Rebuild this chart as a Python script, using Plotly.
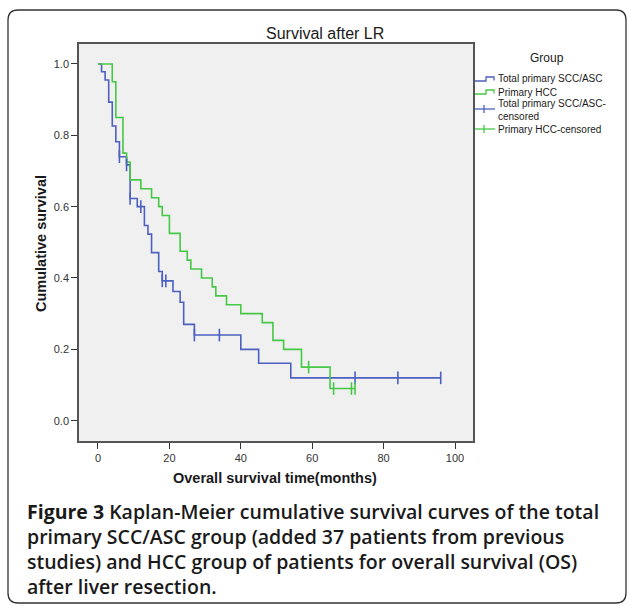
import plotly.graph_objects as go

# ---------------- data ----------------
scc_times = [0, 1, 2, 3, 4, 5, 6, 8, 9, 11, 13, 14, 15, 17, 18, 21, 23, 24, 27, 40, 45, 54]
scc_surv = [1.0, 0.978, 0.955, 0.893, 0.826, 0.782, 0.740, 0.717, 0.623, 0.600, 0.547,
            0.523, 0.471, 0.418, 0.392, 0.362, 0.332, 0.270, 0.240, 0.200, 0.161, 0.120]
scc_censored = [6, 8, 9, 12, 18, 19, 27, 34, 72, 84, 96]

hcc_times = [0, 4, 5, 7, 8, 9, 12, 15, 17, 18, 20, 23, 25, 26, 29, 32, 33, 36, 40, 46, 49, 52, 57, 65]
hcc_surv = [1.0, 0.95, 0.85, 0.75, 0.725, 0.675, 0.65, 0.625, 0.60, 0.575, 0.525, 0.475, 0.45,
            0.425, 0.40, 0.375, 0.35, 0.325, 0.30, 0.275, 0.225, 0.20, 0.15, 0.09]
hcc_censored = [59, 66, 71, 72]

x_ticks = [0, 20, 40, 60, 80, 100]
y_ticks = [0.0, 0.2, 0.4, 0.6, 0.8, 1.0]

legend_labels = ["Total primary SCC/ASC", "Primary HCC",
                 "Total primary SCC/ASC-<br>censored", "Primary HCC-censored"]
caption_lines = [
    "<b>Figure 3</b> Kaplan-Meier cumulative survival curves of the total",
    "primary SCC/ASC group (added 37 patients from previous",
    "studies) and HCC group of patients for overall survival (OS)",
    "after liver resection.",
]

# ---------------- styling ----------------
W, H = 629, 609
ML, MR, MT, MB = 79, 156, 44, 168
PW, PH = W - ML - MR, H - MT - MB
BLUE = "#4d60c0"
GREEN = "#45c845"
FONT = "Arial, Liberation Sans, sans-serif"


def px(x):
    return (x - ML) / PW


def py(y):
    return 1 - (y - MT) / PH


def surv_at(times, surv, t):
    s = surv[0]
    for ti, si in zip(times, surv):
        if ti <= t:
            s = si
    return s


fig = go.Figure()

for times, surv, cens, col in [
    (scc_times, scc_surv, scc_censored, BLUE),
    (hcc_times, hcc_surv, hcc_censored, GREEN),
]:
    xs = list(times) + [max(cens)]
    ys = list(surv) + [surv[-1]]
    fig.add_trace(go.Scatter(x=xs, y=ys, mode="lines", line=dict(color=col, width=1.6, shape="hv"),
                             showlegend=False, hoverinfo="skip"))

for times, surv, cens, col in [
    (scc_times, scc_surv, scc_censored, BLUE),
    (hcc_times, hcc_surv, hcc_censored, GREEN),
]:
    fig.add_trace(go.Scatter(x=cens, y=[surv_at(times, surv, c) for c in cens], mode="markers",
                             marker=dict(symbol="line-ns", size=9, line=dict(color=col, width=1.6)),
                             showlegend=False, hoverinfo="skip"))

shapes = []
# outer rounded frame
x0, x1, y0, y1, r = 8, 626, 10, 603, 10
path = (f"M {px(x0 + r)},{py(y0)} L {px(x1 - r)},{py(y0)} Q {px(x1)},{py(y0)} {px(x1)},{py(y0 + r)} "
        f"L {px(x1)},{py(y1 - r)} Q {px(x1)},{py(y1)} {px(x1 - r)},{py(y1)} "
        f"L {px(x0 + r)},{py(y1)} Q {px(x0)},{py(y1)} {px(x0)},{py(y1 - r)} "
        f"L {px(x0)},{py(y0 + r)} Q {px(x0)},{py(y0)} {px(x0 + r)},{py(y0)} Z")
shapes.append(dict(type="path", xref="paper", yref="paper", path=path,
                   line=dict(color="#333333", width=1.3), layer="below"))

# legend symbols
legend_y = [79, 92, 109, 129]
for col, yy in zip([BLUE, GREEN], legend_y[:2]):
    p = (f"M {px(475)},{py(yy + 2)} L {px(486)},{py(yy + 2)} L {px(486)},{py(yy - 2)} "
         f"L {px(494)},{py(yy - 2)} L {px(494)},{py(yy + 1.5)}")
    shapes.append(dict(type="path", xref="paper", yref="paper", path=p, line=dict(color=col, width=1.3)))
for col, yy in zip([BLUE, GREEN], legend_y[2:]):
    shapes.append(dict(type="line", xref="paper", yref="paper", x0=px(475), x1=px(495), y0=py(yy), y1=py(yy),
                       line=dict(color=col, width=1.3)))
    shapes.append(dict(type="line", xref="paper", yref="paper", x0=px(484), x1=px(484), y0=py(yy - 4),
                       y1=py(yy + 4), line=dict(color=col, width=1.3)))

annotations = []
annotations.append(dict(x=px(325), y=py(33), xref="paper", yref="paper", text="Survival after LR",
                        showarrow=False, xanchor="center", yanchor="middle",
                        font=dict(family=FONT, size=16, color="#1a1a1a")))
annotations.append(dict(x=px(41), y=py(244), xref="paper", yref="paper", text="<b>Cumulative survival</b>",
                        showarrow=False, textangle=-90, xanchor="center", yanchor="middle",
                        font=dict(family=FONT, size=14.5, color="#1a1a1a")))
annotations.append(dict(x=px(275), y=py(478), xref="paper", yref="paper",
                        text="<b>Overall survival time(months)</b>", showarrow=False,
                        xanchor="center", yanchor="middle", font=dict(family=FONT, size=14.5, color="#1a1a1a")))
annotations.append(dict(x=px(547), y=py(58), xref="paper", yref="paper", text="Group", showarrow=False,
                        xanchor="center", yanchor="middle", font=dict(family=FONT, size=12, color="#1a1a1a")))
legend_text_y = [78, 92, 110, 129]
for lab, yy in zip(legend_labels, legend_text_y):
    annotations.append(dict(x=px(496), y=py(yy), xref="paper", yref="paper", text=lab, showarrow=False,
                            xanchor="left", yanchor="middle", align="left",
                            font=dict(family=FONT, size=10, color="#1a1a1a")))
for i, line in enumerate(caption_lines):
    annotations.append(dict(x=px(25), y=py(511 + 25 * i), xref="paper", yref="paper", text=line,
                            showarrow=False, xanchor="left", yanchor="middle", align="left",
                            font=dict(family="Open Sans, sans-serif", size=19.5, color="#1a1a1a", weight=600)))

fig.update_layout(
    width=W, height=H, autosize=False,
    margin=dict(l=ML, r=MR, t=MT, b=MB),
    paper_bgcolor="white", plot_bgcolor="#f0f0f0",
    showlegend=False,
    shapes=shapes, annotations=annotations,
    xaxis=dict(range=[-5.32, 105.04], tickvals=x_ticks, ticks="outside", ticklen=6, tickwidth=1.3,
               tickcolor="#333", showgrid=False, zeroline=False, showline=True, linecolor="#555",
               linewidth=1.5, mirror=True, tickfont=dict(family=FONT, size=11, color="#333")),
    yaxis=dict(range=[-0.057, 1.056], tickvals=y_ticks, tickformat=".1f", ticks="outside", ticklen=6,
               tickwidth=1.3, tickcolor="#333", showgrid=False, zeroline=False, showline=True,
               linecolor="#555", linewidth=1.5, mirror=True,
               tickfont=dict(family=FONT, size=11, color="#333")),
)

fig.write_html("out.html", config={"displayModeBar": False},
               post_script="document.body.style.margin='0';document.body.style.overflow='hidden';")
